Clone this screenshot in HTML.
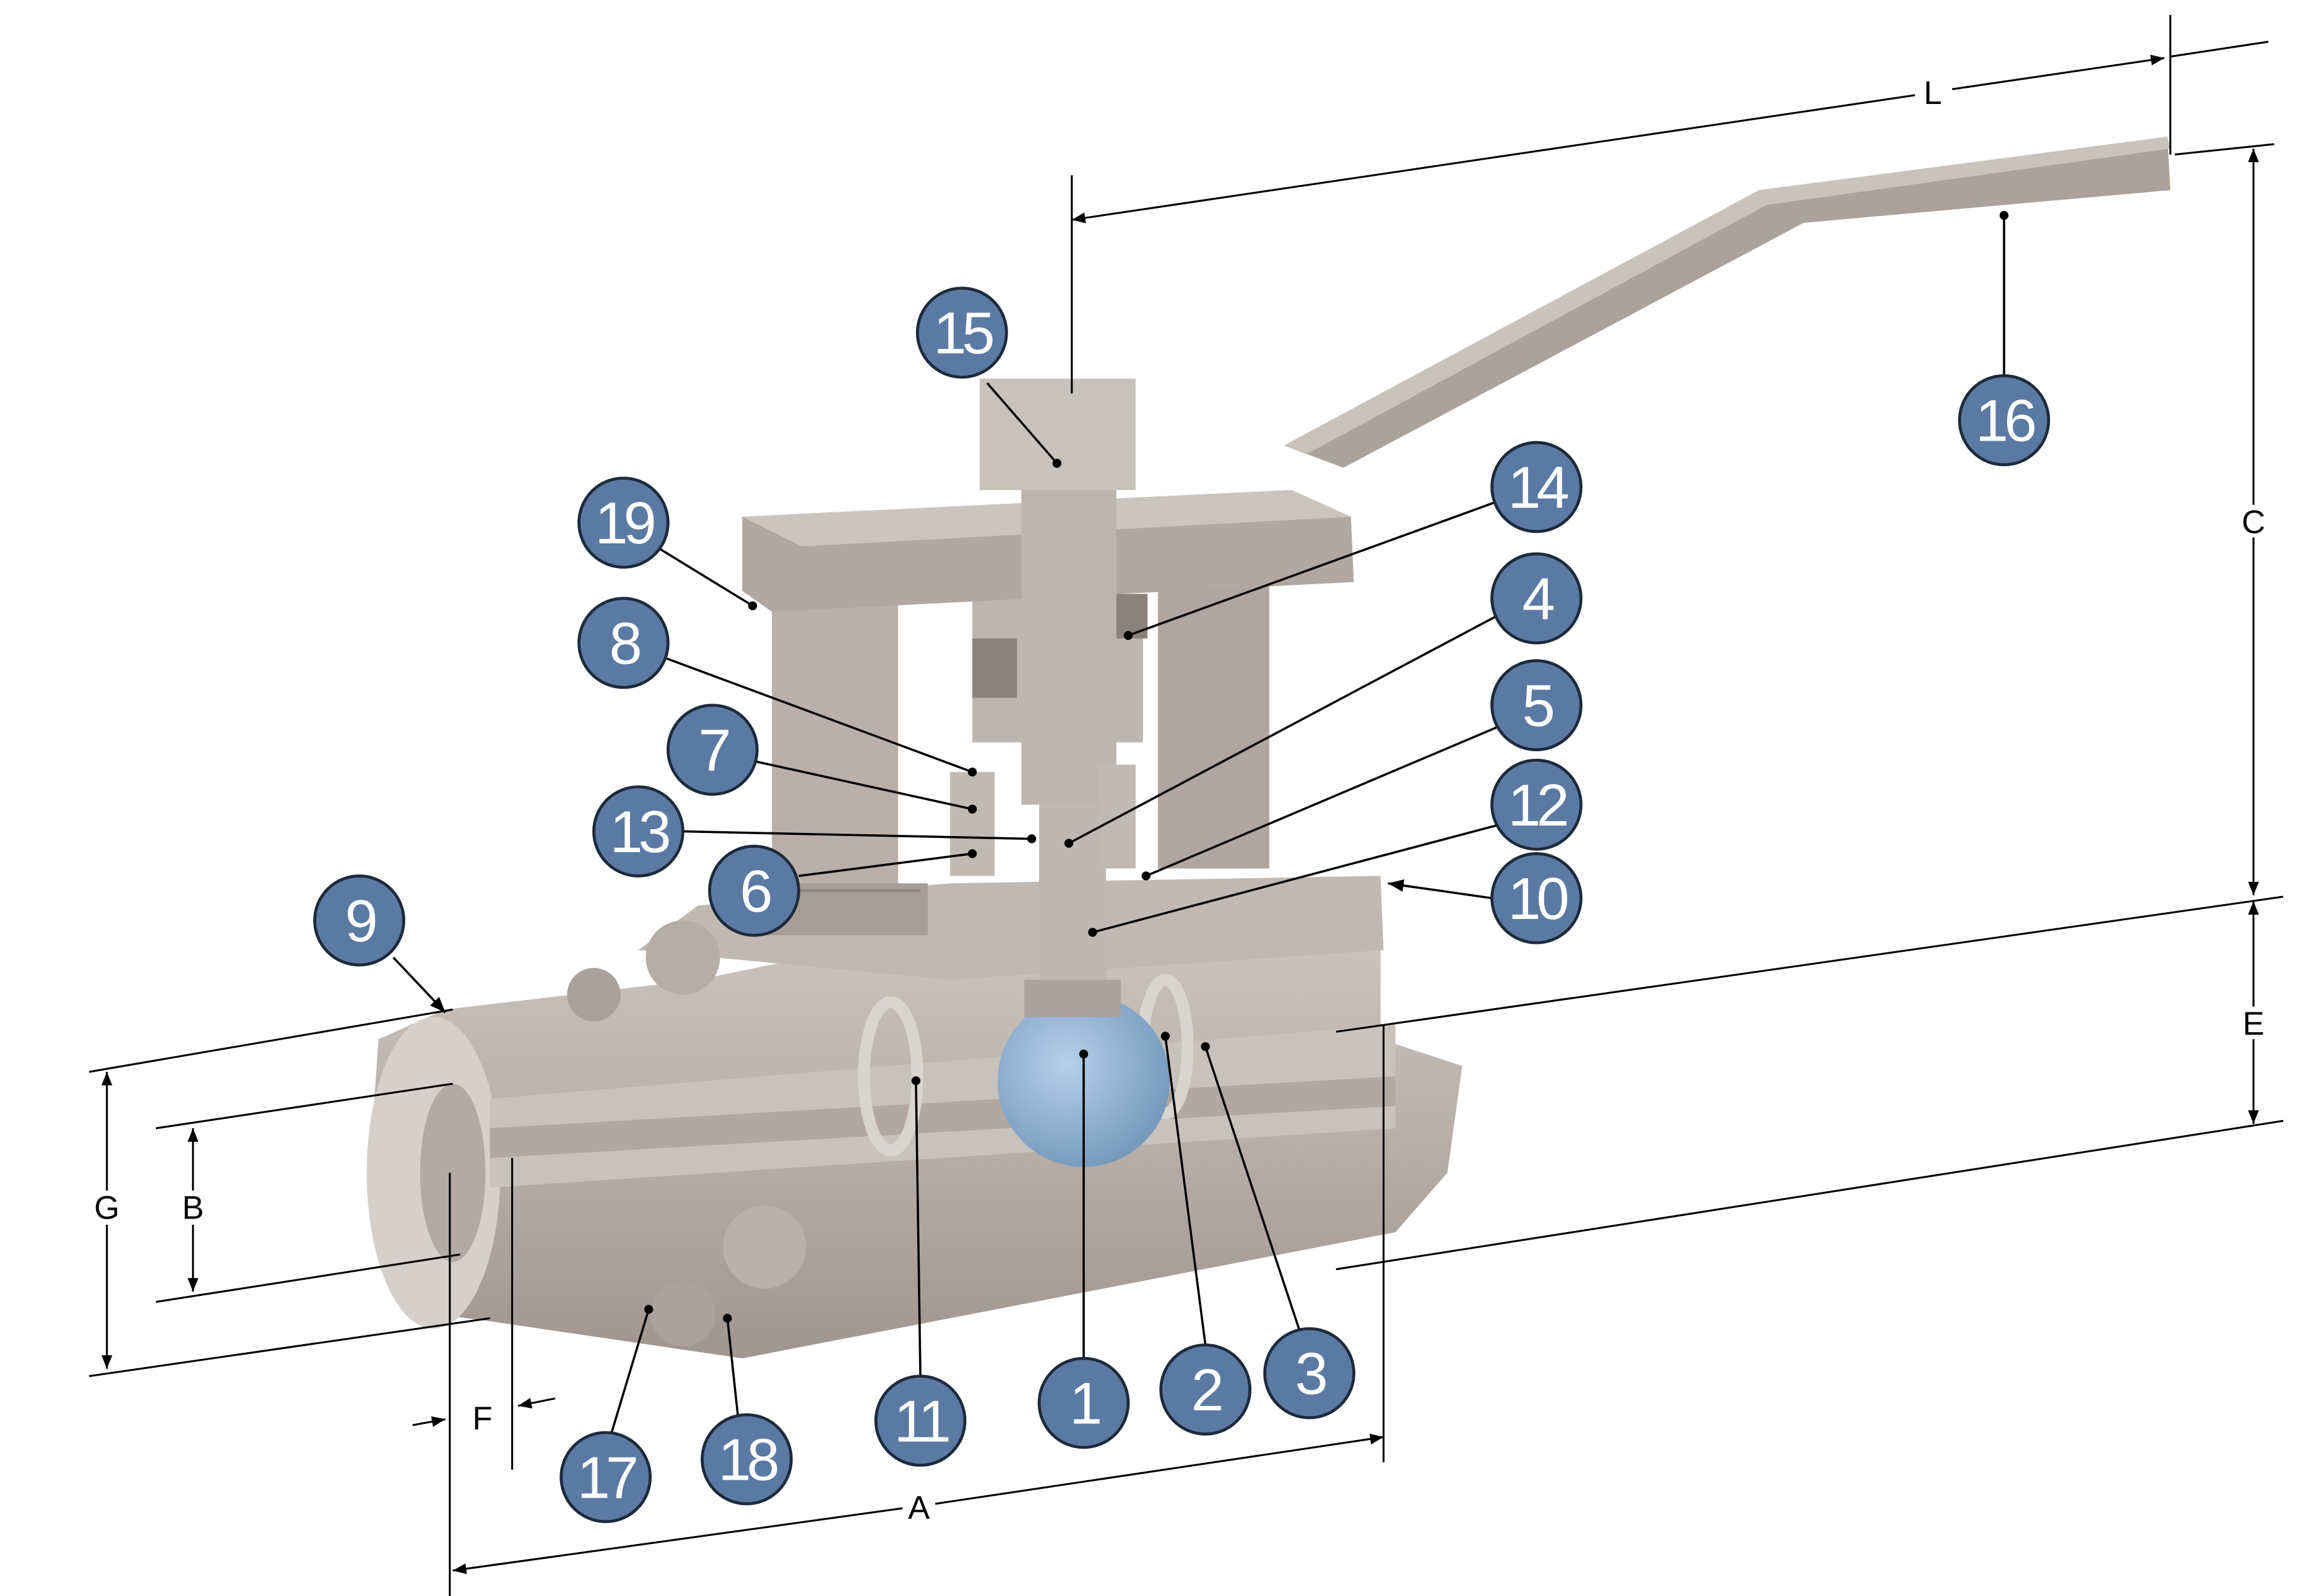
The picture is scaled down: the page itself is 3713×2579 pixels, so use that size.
<!DOCTYPE html>
<html><head><meta charset="utf-8"><style>
html,body{margin:0;padding:0;background:#fff}
svg{display:block}
</style></head><body>
<svg width="3713" height="2579" viewBox="0 0 1548 1075" xmlns="http://www.w3.org/2000/svg" font-family="Liberation Sans, sans-serif">
<defs>
<marker id="ar" viewBox="0 0 10 10" refX="10" refY="5" markerWidth="7" markerHeight="7" orient="auto-start-reverse"><path d="M0,1 L10,5 L0,9 z" fill="#000"/></marker>
<linearGradient id="bd" x1="0" y1="0" x2="0" y2="1"><stop offset="0" stop-color="#cfc9c3"/><stop offset="0.5" stop-color="#b9b1aa"/><stop offset="1" stop-color="#9f968f"/></linearGradient>
<radialGradient id="ball" cx="0.4" cy="0.4" r="0.7"><stop offset="0" stop-color="#b6d0ea"/><stop offset="1" stop-color="#6f93b8"/></radialGradient>
</defs>
<!-- handle -->
<polygon points="865,300 1185,128 1460,92 1462,128 1215,150 905,315" fill="#aaa29b"/>
<polygon points="865,300 1185,128 1460,92 1462,100 1190,138 880,306" fill="#c9c3bd"/>
<!-- yoke pillars -->
<rect x="520" y="395" width="85" height="210" fill="#b8b0a9"/>
<rect x="780" y="385" width="75" height="200" fill="#aea69f"/>
<rect x="655" y="400" width="115" height="100" fill="#bdb6b0"/>
<rect x="655" y="430" width="30" height="40" fill="#8a827c"/>
<rect x="745" y="400" width="28" height="30" fill="#8a827c"/>
<!-- yoke plate -->
<polygon points="500,348 870,330 910,348 912,392 520,412 500,398" fill="#b0a8a1"/>
<polygon points="500,348 870,330 910,348 540,368" fill="#cbc5bf"/>
<!-- body -->
<polygon points="255,700 300,680 470,660 640,625 930,595 930,700 985,718 975,790 940,830 500,915 330,890 270,882 248,800" fill="url(#bd)"/>
<ellipse cx="292" cy="790" rx="45" ry="105" fill="#d5d0cb"/>
<ellipse cx="305" cy="790" rx="22" ry="60" fill="#b2aaa3"/>
<polygon points="330,740 940,690 940,760 330,800" fill="#c8c2bc"/>
<polygon points="330,760 940,725 940,745 330,780" fill="#b0a8a1"/>
<!-- bonnet top -->
<polygon points="430,640 470,610 640,595 930,590 932,640 640,660" fill="#c0b9b3"/>
<rect x="510" y="595" width="115" height="35" fill="#a59d96"/>
<line x1="515" y1="600" x2="620" y2="600" stroke="#8e867f" stroke-width="2"/>
<!-- bolts -->
<circle cx="460" cy="645" r="25" fill="#b5ada6"/><circle cx="400" cy="670" r="18" fill="#a9a19a"/>
<circle cx="515" cy="840" r="28" fill="#b8b0a9"/><circle cx="460" cy="885" r="22" fill="#aaa29b"/>
<!-- ball & seats -->
<ellipse cx="600" cy="725" rx="18" ry="50" fill="none" stroke="#d8d4d0" stroke-width="8"/>
<ellipse cx="785" cy="705" rx="15" ry="45" fill="none" stroke="#d8d4d0" stroke-width="8"/>
<circle cx="730" cy="728" r="58" fill="url(#ball)"/>
<!-- stem -->
<rect x="700" y="540" width="45" height="140" fill="#bfb8b2"/>
<rect x="690" y="660" width="65" height="25" fill="#aaa29b"/>
<rect x="688" y="262" width="64" height="280" fill="#bdb6b0"/>
<rect x="660" y="255" width="105" height="75" fill="#c8c2bc"/>
<rect x="640" y="520" width="30" height="70" fill="#c0bab4"/>
<rect x="740" y="515" width="25" height="70" fill="#c0bab4"/>
<!-- dimension lines -->
<g stroke="#000" stroke-width="1.3" fill="none">
<line x1="722" y1="118" x2="722" y2="265"/>
<line x1="1462" y1="10" x2="1462" y2="104"/>
<line x1="1462" y1="38" x2="1528" y2="28"/>
<line x1="722" y1="148" x2="1290" y2="64" marker-start="url(#ar)"/>
<line x1="1315" y1="60" x2="1458" y2="39" marker-end="url(#ar)"/>
<line x1="1465" y1="104" x2="1532" y2="97"/>
<line x1="1518" y1="100" x2="1518" y2="340" marker-start="url(#ar)"/>
<line x1="1518" y1="362" x2="1518" y2="603" marker-end="url(#ar)"/>
<line x1="900" y1="695" x2="1538" y2="604"/>
<line x1="1518" y1="607" x2="1518" y2="678" marker-start="url(#ar)"/>
<line x1="1518" y1="700" x2="1518" y2="757" marker-end="url(#ar)"/>
<line x1="900" y1="855" x2="1538" y2="755"/>
<line x1="60" y1="722" x2="305" y2="680"/>
<line x1="60" y1="927" x2="330" y2="888"/>
<line x1="72" y1="722" x2="72" y2="802" marker-start="url(#ar)"/>
<line x1="72" y1="825" x2="72" y2="922" marker-end="url(#ar)"/>
<line x1="105" y1="760" x2="305" y2="730"/>
<line x1="105" y1="877" x2="310" y2="845"/>
<line x1="130" y1="760" x2="130" y2="802" marker-start="url(#ar)"/>
<line x1="130" y1="825" x2="130" y2="870" marker-end="url(#ar)"/>
<line x1="303" y1="790" x2="303" y2="1078"/>
<line x1="932" y1="690" x2="932" y2="985"/>
<line x1="345" y1="780" x2="345" y2="990"/>
<line x1="305" y1="1058" x2="608" y2="1016" marker-start="url(#ar)"/>
<line x1="630" y1="1013" x2="932" y2="968" marker-end="url(#ar)"/>
<line x1="278" y1="960" x2="300" y2="956" marker-end="url(#ar)"/>
<line x1="374" y1="942" x2="349" y2="947" marker-end="url(#ar)"/>
</g>
<g font-size="22" text-anchor="middle" fill="#000">
<text x="1302" y="70">L</text><text x="1518" y="359">C</text><text x="1518" y="697">E</text>
<text x="72" y="821">G</text><text x="130" y="821">B</text><text x="619" y="1023">A</text><text x="325" y="963">F</text>
</g>
<!-- leaders -->
<g stroke="#000" stroke-width="1.5" fill="none">
<line x1="665" y1="258" x2="712" y2="312"/><line x1="1350" y1="253" x2="1350" y2="145"/>
<line x1="445" y1="370" x2="507" y2="408"/><line x1="1008" y1="338" x2="760" y2="428"/>
<line x1="1008" y1="415" x2="720" y2="568"/><line x1="445" y1="442" x2="655" y2="520"/>
<line x1="1008" y1="490" x2="772" y2="590"/><line x1="505" y1="512" x2="655" y2="545"/>
<line x1="1008" y1="556" x2="736" y2="628"/><line x1="460" y1="560" x2="695" y2="565"/>
<line x1="538" y1="590" x2="655" y2="575"/>
<line x1="1005" y1="605" x2="935" y2="595" marker-end="url(#ar)"/>
<line x1="265" y1="645" x2="300" y2="682" marker-end="url(#ar)"/>
<line x1="620" y1="927" x2="617" y2="728"/><line x1="730" y1="915" x2="730" y2="710"/>
<line x1="812" y1="906" x2="785" y2="698"/><line x1="875" y1="895" x2="812" y2="705"/>
<line x1="412" y1="965" x2="437" y2="882"/><line x1="497" y1="953" x2="490" y2="888"/>
</g>
<g fill="#000">
<circle cx="712" cy="312" r="3"/><circle cx="507" cy="408" r="3"/><circle cx="760" cy="428" r="3"/><circle cx="720" cy="568" r="3"/><circle cx="655" cy="520" r="3"/><circle cx="772" cy="590" r="3"/><circle cx="655" cy="545" r="3"/><circle cx="736" cy="628" r="3"/><circle cx="695" cy="565" r="3"/><circle cx="655" cy="575" r="3"/><circle cx="617" cy="728" r="3"/><circle cx="730" cy="710" r="3"/><circle cx="785" cy="698" r="3"/><circle cx="812" cy="705" r="3"/><circle cx="437" cy="882" r="3"/><circle cx="490" cy="888" r="3"/><circle cx="1350" cy="145" r="3"/>
</g>
<!-- callouts -->
<g fill="#5a7aa4" stroke="#1d2a3a" stroke-width="2">
<circle cx="648" cy="224" r="30"/><circle cx="1350" cy="283" r="30"/><circle cx="420" cy="352" r="30"/><circle cx="1035" cy="328" r="30"/><circle cx="1035" cy="403" r="30"/><circle cx="420" cy="433" r="30"/><circle cx="1035" cy="475" r="30"/><circle cx="480" cy="505" r="30"/><circle cx="1035" cy="542" r="30"/><circle cx="430" cy="560" r="30"/><circle cx="508" cy="600" r="30"/><circle cx="1035" cy="605" r="30"/><circle cx="242" cy="620" r="30"/><circle cx="620" cy="957" r="30"/><circle cx="730" cy="945" r="30"/><circle cx="812" cy="936" r="30"/><circle cx="882" cy="925" r="30"/><circle cx="408" cy="995" r="30"/><circle cx="503" cy="983" r="30"/>
</g>
<g fill="#fff" font-size="40" text-anchor="middle" letter-spacing="-3">
<text x="648" y="238">15</text><text x="1350" y="297">16</text><text x="420" y="366">19</text><text x="1035" y="342">14</text><text x="1035" y="417">4</text><text x="420" y="447">8</text><text x="1035" y="489">5</text><text x="480" y="519">7</text><text x="1035" y="556">12</text><text x="430" y="574">13</text><text x="508" y="614">6</text><text x="1035" y="619">10</text><text x="242" y="634">9</text><text x="620" y="971">11</text><text x="730" y="959">1</text><text x="812" y="950">2</text><text x="882" y="939">3</text><text x="408" y="1009">17</text><text x="503" y="997">18</text>
</g>
</svg>
</body></html>
